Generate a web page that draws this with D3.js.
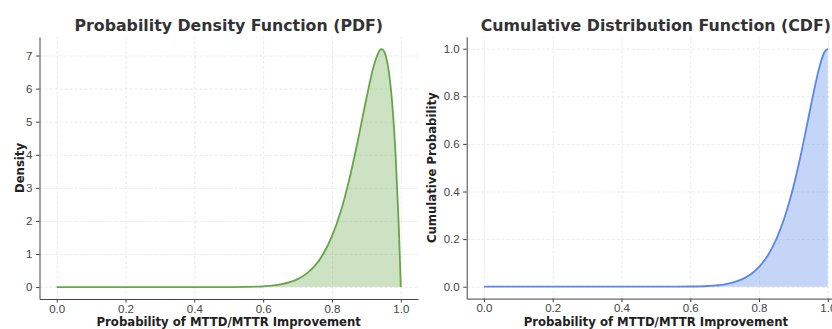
<!DOCTYPE html>
<html>
<head>
<meta charset="utf-8">
<script src="https://cdn.jsdelivr.net/npm/d3@7"></script>
<style>
  body { margin: 0; background: #fff; }
  svg { display: block; font-family: "DejaVu Sans", sans-serif; }
  .axis text { font-size: 11.5px; fill: #444; }
  .axis path, .axis line { stroke: #444; stroke-width: 1; }
  .grid line { stroke: #e6e6e6; stroke-width: 0.8; stroke-dasharray: 3,2; }
  .grid path { stroke: none; }
  .title { font-size: 15.8px; font-weight: bold; fill: #333; }
  .label { font-size: 11.7px; font-weight: bold; fill: #222; }
</style>
</head>
<body>
<div id="chart"></div>
<script>
// x positions
var pdfX = [0, 0.1, 0.2, 0.3, 0.4, 0.5, 0.55, 0.6, 0.65, 0.7, 0.725, 0.75, 0.775, 0.8, 0.825, 0.85, 0.875, 0.9, 0.92, 0.935, 0.94, 0.945, 0.95, 0.955, 0.965, 0.975, 0.985, 0.993, 0.995, 0.998, 1.0];
var pdfY = [0, 0, 0, 0, 0, 0.001, 0.006, 0.023, 0.079, 0.24, 0.40, 0.64, 1.01, 1.54, 2.27, 3.24, 4.42, 5.70, 6.63, 7.09, 7.17, 7.19, 7.15, 7.04, 6.53, 5.56, 3.97, 2.12, 1.57, 0.66, 0];

var cdfX = [0, 0.1, 0.2, 0.3, 0.4, 0.5, 0.55, 0.6, 0.65, 0.7, 0.725, 0.75, 0.775, 0.8, 0.825, 0.85, 0.875, 0.9, 0.92, 0.94, 0.96, 0.97, 0.98, 0.99, 1.0];
var cdfY = [0, 0, 0, 0, 0, 0, 0.0002, 0.0008, 0.003, 0.010, 0.018, 0.031, 0.051, 0.083, 0.130, 0.199, 0.294, 0.420, 0.544, 0.683, 0.825, 0.890, 0.945, 0.985, 1.0];

var xTicks = [0, 0.2, 0.4, 0.6, 0.8, 1.0];
var pdfTicks = [0, 1, 2, 3, 4, 5, 6, 7];
var cdfTicks = [0, 0.2, 0.4, 0.6, 0.8, 1.0];

var svg = d3.select("#chart").append("svg")
  .attr("width", 832)
  .attr("height", 329);

function drawPanel(cfg) {
  var x = d3.scaleLinear().domain(cfg.xDomain).range([cfg.left, cfg.right]);
  var y = d3.scaleLinear().domain(cfg.yDomain).range([cfg.bottom, cfg.top]);
  var g = svg.append("g");

  // grid lines
  g.append("g")
    .attr("class", "grid")
    .attr("transform", "translate(0," + cfg.bottom + ")")
    .call(d3.axisBottom(x).tickValues(xTicks).tickSize(-(cfg.bottom - cfg.top)).tickFormat(""));
  g.append("g")
    .attr("class", "grid")
    .attr("transform", "translate(" + cfg.left + ",0)")
    .call(d3.axisLeft(y).tickValues(cfg.yTicks).tickSize(-(cfg.right - cfg.left)).tickFormat(""));

  var pts = d3.zip(cfg.xs, cfg.ys);

  // filled area under the curve
  g.append("path")
    .datum(pts)
    .attr("fill", cfg.fill)
    .attr("d", d3.area()
      .x(function (d) { return x(d[0]); })
      .y0(y(0))
      .y1(function (d) { return y(d[1]); })
      .curve(d3.curveMonotoneX));

  // curve line
  g.append("path")
    .datum(pts)
    .attr("fill", "none")
    .attr("stroke", cfg.color)
    .attr("stroke-width", 1.8)
    .attr("d", d3.line()
      .x(function (d) { return x(d[0]); })
      .y(function (d) { return y(d[1]); })
      .curve(d3.curveMonotoneX));

  // axes
  g.append("g")
    .attr("class", "axis")
    .attr("transform", "translate(0," + cfg.bottom + ")")
    .call(d3.axisBottom(x).tickValues(xTicks).tickSize(3.5).tickPadding(2).tickSizeOuter(0).tickFormat(d3.format(".1f")));
  g.append("g")
    .attr("class", "axis")
    .attr("transform", "translate(" + cfg.left + ",0)")
    .call(d3.axisLeft(y).tickValues(cfg.yTicks).tickSize(3.5).tickPadding(3.5).tickSizeOuter(0).tickFormat(cfg.yFormat));

  // texts
  var cx = (cfg.left + cfg.right) / 2;
  g.append("text")
    .attr("class", "title")
    .attr("x", cx)
    .attr("y", 30.5)
    .attr("text-anchor", "middle")
    .text(cfg.title);
  g.append("text")
    .attr("class", "label")
    .attr("x", cx)
    .attr("y", 326)
    .attr("text-anchor", "middle")
    .text("Probability of MTTD/MTTR Improvement");
  g.append("text")
    .attr("class", "label")
    .attr("transform", "translate(" + cfg.yLabelX + "," + ((cfg.top + cfg.bottom) / 2) + ") rotate(-90)")
    .attr("dy", "0.35em")
    .attr("text-anchor", "middle")
    .text(cfg.yLabel);
}

drawPanel({
  left: 39.5, right: 418, top: 37, bottom: 299,
  xDomain: [-0.05, 1.05], yDomain: [-0.36, 7.56],
  xs: pdfX, ys: pdfY, yTicks: pdfTicks, yFormat: d3.format("d"),
  color: "#67a54a", fill: "rgba(103,165,74,0.33)",
  title: "Probability Density Function (PDF)",
  yLabel: "Density", yLabelX: 20
});

drawPanel({
  left: 466.7, right: 845, top: 36.8, bottom: 298.6,
  xDomain: [-0.05, 1.05], yDomain: [-0.05, 1.05],
  xs: cdfX, ys: cdfY, yTicks: cdfTicks, yFormat: d3.format(".1f"),
  color: "#5a87e8", fill: "rgba(90,135,232,0.35)",
  title: "Cumulative Distribution Function (CDF)",
  yLabel: "Cumulative Probability", yLabelX: 432
});
</script>
</body>
</html>
